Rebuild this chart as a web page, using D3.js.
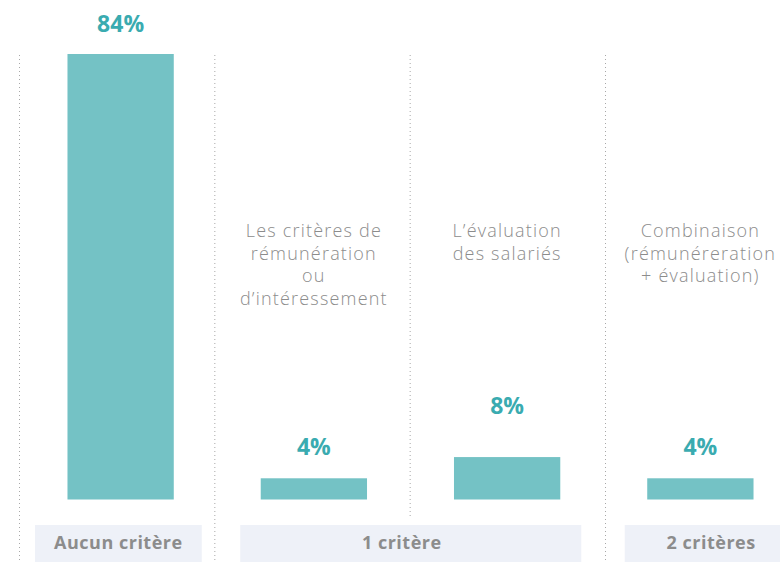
<!DOCTYPE html>
<html><head><meta charset="utf-8">
<script src="https://cdn.jsdelivr.net/npm/d3@7"></script>
<style>
html,body{margin:0;padding:0;background:#fff;}
svg{display:block;}
</style>
</head><body>
<svg id="chart" width="780" height="563"></svg>
<script>
const categories = ["Aucun critère", "Les critères de rémunération ou d’intéressement", "L’évaluation des salariés", "Combinaison (rémunéreration + évaluation)"];
const categoryLines = [[], ["Les critères de", "rémunération", "ou", "d’intéressement"], ["L’évaluation", "des salariés"], ["Combinaison", "(rémunéreration", "+ évaluation)"]];
const values = [84, 4, 8, 4];
const groupLabels = ["Aucun critère", "1 critère", "2 critères"];
const groupMembers = [[0], [1, 2], [3]];

const W = 780, H = 563;
const svg = d3.select("#chart");
const teal = "#74c2c5", tealText = "#3aabb0", grey = "#8c8c8c";
const font = "'Open Sans', sans-serif";

const x = d3.scaleBand().domain(d3.range(categories.length)).range([24, 797]).paddingInner(0.45).paddingOuter(0.225);
const y = d3.scaleLinear().domain([0, 84]).range([499.5, 54]);

// dotted dividers
const divX = d3.scaleLinear().domain([0, 3]).range([19, 605]);
const dividers = [{i:0, y2:H}, {i:1, y2:H}, {i:2, y2:517}, {i:3, y2:H}];
svg.selectAll("line.div").data(dividers).join("line")
  .attr("x1", d => divX(d.i) + 0.5).attr("x2", d => divX(d.i) + 0.5)
  .attr("y1", 55).attr("y2", d => d.y2)
  .attr("stroke", "#a8a8a8").attr("stroke-width", 1).attr("stroke-dasharray", "1,3");

// group boxes
const pads = [[32.5, 28], [20.5, 21], [22.5, 44]];
const groups = groupLabels.map((g, k) => {
  const m = groupMembers[k];
  const x0 = x(m[0]) - pads[k][0];
  const x1 = x(m[m.length - 1]) + x.bandwidth() + pads[k][1];
  return {label: g, x0, x1};
});
svg.selectAll("rect.grp").data(groups).join("rect")
  .attr("x", d => d.x0).attr("y", 525).attr("width", d => d.x1 - d.x0).attr("height", 37)
  .attr("fill", "#eef1f8");
svg.selectAll("text.grp").data(groups).join("text")
  .attr("x", (d, k) => k === 1 ? (d.x0 + d.x1) / 2 - 9 : (d.x0 + d.x1) / 2)
  .attr("y", 549)
  .attr("text-anchor", "middle").attr("font-family", font).attr("font-weight", 700)
  .attr("font-size", 18).attr("letter-spacing", 0.5).attr("fill", grey).text(d => d.label);

// bars
svg.selectAll("rect.bar").data(values).join("rect")
  .attr("x", (d, i) => x(i)).attr("width", x.bandwidth())
  .attr("y", d => y(d)).attr("height", d => y(0) - y(d))
  .attr("fill", teal);

// value labels
const labelGap = [22, 23, 43, 23];
svg.selectAll("text.val").data(values).join("text")
  .attr("x", (d, i) => x(i) + x.bandwidth() / 2)
  .attr("y", (d, i) => y(d) - labelGap[i])
  .attr("text-anchor", "middle").attr("font-family", font).attr("font-weight", 700)
  .attr("font-size", 23).attr("fill", tealText).text(d => d + "%");

// category labels
categoryLines.forEach((lines, i) => {
  const t = svg.append("text").attr("text-anchor", "middle")
    .attr("font-family", font).attr("font-weight", 300).attr("font-size", 18)
    .attr("letter-spacing", 1.2).attr("fill", grey);
  lines.forEach((l, j) => {
    t.append("tspan").attr("x", x(i) + x.bandwidth() / 2).attr("y", 237 + j * 22.5).text(l);
  });
});
</script>
</body></html>
